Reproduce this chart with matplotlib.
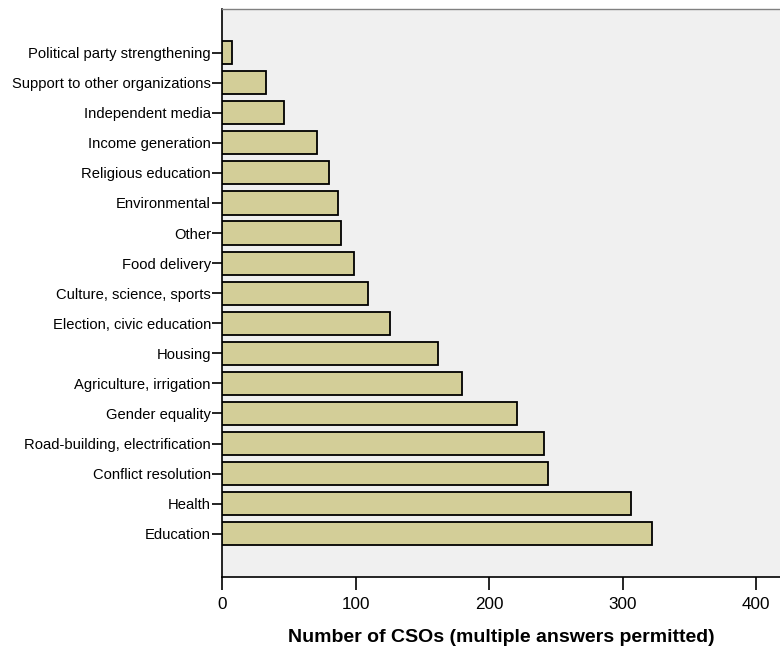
import numpy as np
import matplotlib.pyplot as plt

plt.rcParams['font.family'] = ['Liberation Sans', 'DejaVu Sans']

# Dados (de baixo para cima)
categories = ['Education', 'Health', 'Conflict resolution',
              'Road-building, electrification', 'Gender equality',
              'Agriculture, irrigation', 'Housing', 'Election, civic education',
              'Culture, science, sports', 'Food delivery', 'Other',
              'Environmental', 'Religious education', 'Income generation',
              'Independent media', 'Support to other organizations',
              'Political party strengthening']
counts = [322, 306, 244, 241, 221, 180, 162, 126, 109, 99, 89, 87, 80, 71,
          46, 33, 7]
x_ticks = [0, 100, 200, 300, 400]

fig = plt.figure(figsize=(7.8, 6.47), dpi=100)
ax = fig.add_axes([0.285, 0.1077, 0.715, 0.8784])
ax.set_facecolor('#f0f0f0')

y = np.arange(len(categories))
ax.barh(y, counts, height=0.77, color='#d3ce98', edgecolor='black',
        linewidth=1.3, zorder=3)

ax.set_yticks(y)
ax.set_yticklabels(categories, fontsize=10.6)
ax.set_xticks(x_ticks)
ax.set_xticklabels([str(t) for t in x_ticks], fontsize=12.3)
ax.set_xlim(0, 418)
ax.set_ylim(-1.45, len(categories) - 1 + 1.45)

ax.tick_params(axis='y', length=7.2, width=1.2, pad=1)
ax.tick_params(axis='x', length=9.4, width=1.2, pad=5)

ax.spines['right'].set_visible(False)
ax.spines['top'].set_color('#808080')
ax.spines['top'].set_linewidth(1)
ax.spines['left'].set_linewidth(1.2)
ax.spines['bottom'].set_linewidth(1.2)

ax.set_xlabel('Number of CSOs (multiple answers permitted)', fontsize=14,
              fontweight='bold', labelpad=12)

fig.savefig('out.png', dpi=100)
